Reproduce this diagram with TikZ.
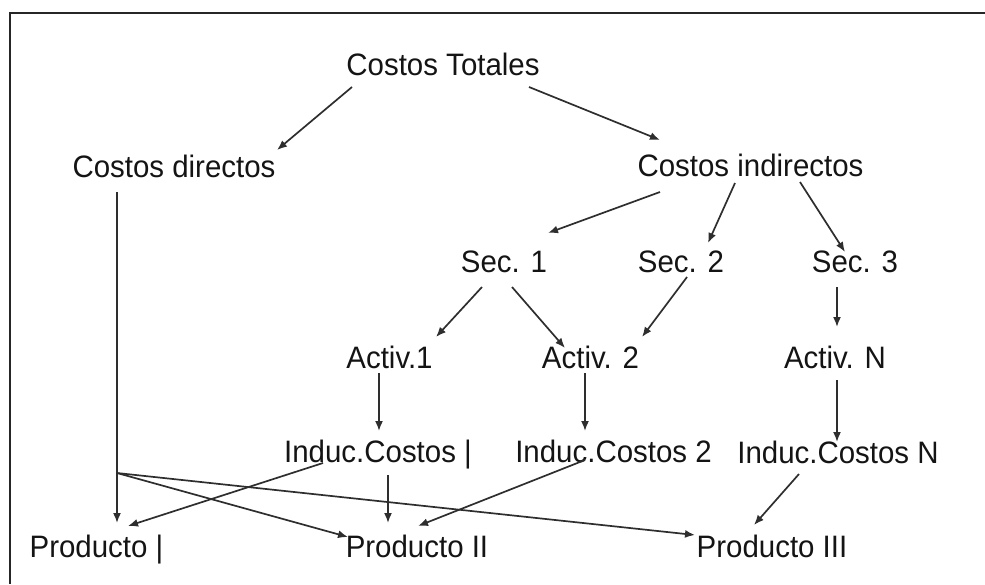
\documentclass[tikz,border=0pt]{standalone}
\usepackage{fontspec}
\setmainfont{Liberation Sans}[FakeStretch=0.95]
\usetikzlibrary{arrows.meta}
\begin{document}
\begin{tikzpicture}[x=1pt,y=-1pt,
  lbl/.style={font=\fontsize{31}{33}\selectfont, anchor=base, inner sep=0pt, text=black!92},
  conn/.style={-{Latex[length=10pt,width=8pt]}, line width=1.7pt, draw=black!82},
  plain/.style={line width=1.7pt, draw=black!82}]
\useasboundingbox (0,0) rectangle (985,584);
% frame: top and left edges
\draw[line width=2.5pt, black!85] (985,13) -- (10,13) -- (10,584);

% level 0-1
\node[lbl] (ct) at (443,75) {Costos Totales};
\node[lbl] (cd) at (174,177) {Costos directos};
\node[lbl] (ci) at (750.5,176) {Costos indirectos};
% sections
\node[lbl] (s1) at (504,272) {Sec. 1};
\node[lbl] (s2) at (681,272) {Sec. 2};
\node[lbl] (s3) at (855,272) {Sec. 3};
% activities
\node[lbl] (a1) at (389.5,368) {Activ.1};
\node[lbl] (a2) at (590.5,368) {Activ. 2};
\node[lbl] (aN) at (835,368) {Activ. N};
% cost drivers
\node[lbl] (i1) at (378,462) {Induc.Costos |};
\node[lbl] (i2) at (613.5,462) {Induc.Costos 2};
\node[lbl] (iN) at (838,463) {Induc.Costos N};
% products
\node[lbl] (p1) at (96.5,557) {Producto |};
\node[lbl] (p2) at (417,557) {Producto II};
\node[lbl] (p3) at (772,557) {Producto III};

% split point of the direct-cost line
\coordinate (jn) at (117,473);

% connectors
\draw[conn] ([shift={(-91,12)}]ct.base) -- ([shift={(103,-27)}]cd.base);
\draw[conn] ([shift={(86,12)}]ct.base) -- ([shift={(-90.5,-36)}]ci.base);
\draw[conn] ([shift={(-90.5,16)}]ci.base) -- ([shift={(44,-39)}]s1.base);
\draw[conn] ([shift={(-15.5,7)}]ci.base) -- ([shift={(27,-29)}]s2.base);
\draw[conn] ([shift={(49.5,6)}]ci.base) -- ([shift={(-10,-20)}]s3.base);
\draw[conn] ([shift={(-22,15)}]s1.base) -- ([shift={(46.5,-31)}]a1.base);
\draw[conn] ([shift={(8,15)}]s1.base) -- ([shift={(-25.5,-20)}]a2.base);
\draw[conn] ([shift={(6,5)}]s2.base) -- ([shift={(51.5,-31)}]a2.base);
\draw[conn] ([shift={(-18,15)}]s3.base) -- ([shift={(2,-41)}]aN.base);
\draw[conn] ([shift={(-10.5,5)}]a1.base) -- ([shift={(1,-31)}]i1.base);
\draw[conn] ([shift={(-5.5,5)}]a2.base) -- ([shift={(-28.5,-31)}]i2.base);
\draw[conn] ([shift={(2,12)}]aN.base) -- ([shift={(-1,-21)}]iN.base);
\draw[conn] ([shift={(-55,1)}]i1.base) -- ([shift={(31.5,-31)}]p1.base);
\draw[conn] ([shift={(10,13)}]i1.base) -- ([shift={(-29,-34)}]p2.base);
\draw[conn] ([shift={(-28.5,-2)}]i2.base) -- ([shift={(1,-31)}]p2.base);
\draw[conn] ([shift={(-39,11)}]iN.base) -- ([shift={(-18,-32)}]p3.base);
\draw[plain] ([shift={(-57,15)}]cd.base) -- (jn);
\draw[conn] (jn) -- ([shift={(20.5,-34)}]p1.base);
\draw[conn] (jn) -- ([shift={(-69,-20)}]p2.base);
\draw[conn] (jn) -- ([shift={(-77,-22)}]p3.base);
\end{tikzpicture}
\end{document}
